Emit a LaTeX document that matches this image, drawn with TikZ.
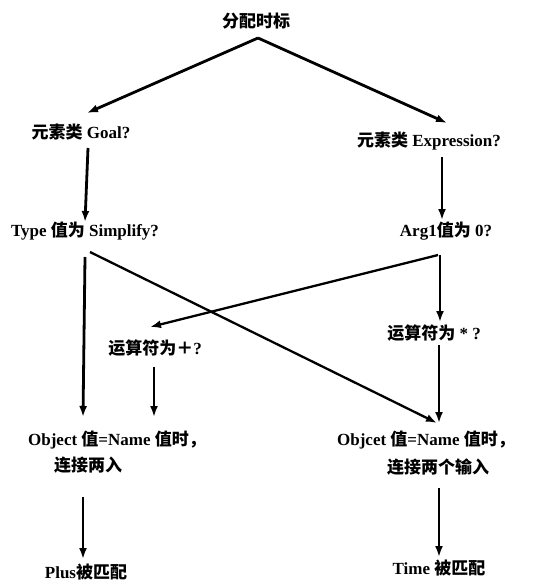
\documentclass[tikz,border=0pt]{standalone}
\usepackage{fontspec}
\setmainfont{Liberation Serif}
\newfontfamily\cjk{Noto Sans CJK SC}
\usetikzlibrary{arrows.meta}
\newcommand{\C}[1]{{\cjk\bfseries #1}}
\tikzset{
  lbl/.style={inner sep=0pt, font=\fontsize{17}{20}\selectfont\bfseries},
  arr/.style={line width=2.8pt, -{Latex[length=11pt,width=8pt]}},
  thinarr/.style={line width=2.3pt, -{Latex[length=11pt,width=8pt]}}
}
\begin{document}
\begin{tikzpicture}[x=1pt,y=-1pt]
\useasboundingbox (0,0) rectangle (552,581);
\node[lbl] (top) at (256,21) {\C{分配时标}};
\node[lbl] (goal) at (81,132) {\C{元素类} Goal?};
\node[lbl] (expr) at (429,141) {\C{元素类} Expression?};
\node[lbl] (type) at (85,231) {Type \C{值为} Simplify?};
\node[lbl] (arg) at (446,231) {Arg1\C{值为} 0?};
\node[lbl] (plus) at (155,348) {\C{运算符为＋}?};
\node[lbl] (mul) at (434,333) {\C{运算符为} * ?};
\node[lbl] (obj1) at (117,440) {Object \C{值}=Name \C{值时，}};
\node[lbl] (con1) at (88,465) {\C{连接两入}};
\node[lbl] (obj2) at (426,440) {Objcet \C{值}=Name \C{值时，}};
\node[lbl] (con2) at (438,467) {\C{连接两个输入}};
\node[lbl] (plusm) at (86,572) {Plus\C{被匹配}};
\node[lbl] (timem) at (439,568) {Time \C{被匹配}};

\draw[arr] ([shift={(2,17)}]top.center) -- ([shift={(6,-19)}]goal.center);
\draw[arr] ([shift={(2,17)}]top.center) -- ([shift={(18,-18)}]expr.center);
\draw[arr] ([shift={(7,16)}]goal.center) -- ([shift={(0,-9)}]type.center);
\draw[arr] ([shift={(13,16)}]expr.center) -- ([shift={(-4,-11)}]arg.center);
\draw[arr] ([shift={(0,26)}]type.center) -- ([shift={(-34,-23)}]obj1.center);
\draw[thinarr] ([shift={(5,21)}]type.center) -- ([shift={(11,-17)}]obj2.center);
\draw[thinarr] ([shift={(-8,24)}]arg.center) -- ([shift={(-5,-21)}]plus.center);
\draw[arr] ([shift={(-6,24)}]arg.center) -- ([shift={(6,-11)}]mul.center);
\draw[thinarr] ([shift={(-1,19)}]plus.center) -- ([shift={(37,-23)}]obj1.center);
\draw[arr] ([shift={(5,12)}]mul.center) -- ([shift={(13,-17)}]obj2.center);
\draw[arr] ([shift={(-5,32)}]con1.center) -- ([shift={(-3,-13)}]plusm.center);
\draw[arr] ([shift={(1,21)}]con2.center) -- ([shift={(0,-11)}]timem.center);
\end{tikzpicture}
\end{document}
